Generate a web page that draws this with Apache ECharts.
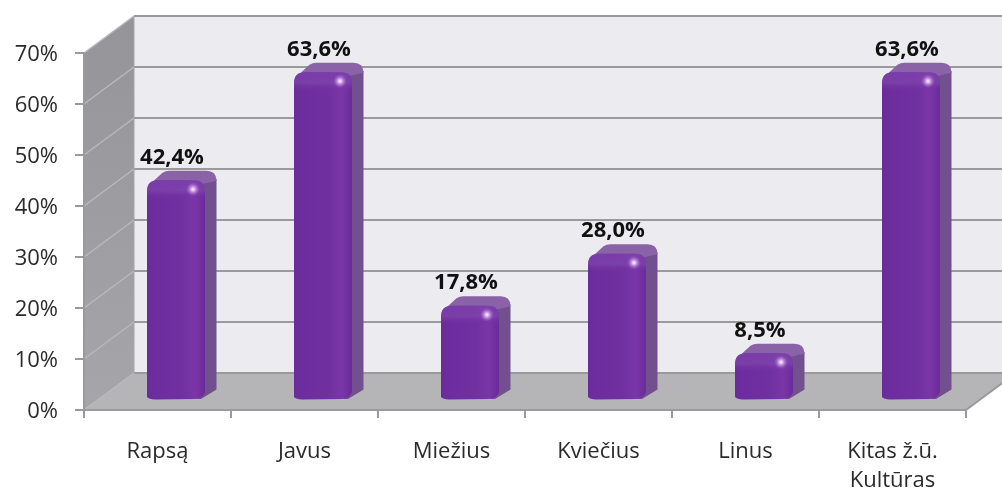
<!DOCTYPE html>
<html><head><meta charset="utf-8">
<style>html,body{margin:0;padding:0;background:#fff}#c{width:1002px;height:488px}</style>
<script src="https://cdn.jsdelivr.net/npm/echarts@6/dist/echarts.min.js"></script>
</head><body><div id="c"></div>
<script>
const categories = ['Rapsą','Javus','Miežius','Kviečius','Linus','Kitas ž.ū.\nKultūras'];
const values = [42.4,63.6,17.8,28.0,8.5,63.6];
const tickValues = [0,10,20,30,40,50,60,70];

const G = echarts.graphic;
const chart = echarts.init(document.getElementById('c'));
const DX = 50, DY = -37;          // wall depth
const LINE = '#9a9a9c';

function wallItem(params, api){
  const c = params.coordSys, L = c.x, R = c.x + c.width, T = c.y, B = c.y + c.height;
  const poly = (pts, fill) => ({type:'polygon', shape:{points:pts}, style:{fill}});
  return {type:'group', children:[
    poly([[L+DX,T+DY],[R+DX,T+DY],[R+DX,B+DY],[L+DX,B+DY]], '#ecebf0'),
    poly([[L,T],[L+DX,T+DY],[L+DX,B+DY],[L,B]],
      new G.LinearGradient(0,0,0,1,[{offset:0,color:'#959498'},{offset:1,color:'#a6a5a9'}])),
    poly([[L,B],[L+DX,B+DY],[R+DX,B+DY],[R,B]], '#b5b4b7'),
    {type:'line', shape:{x1:L+DX,y1:T+DY,x2:L+DX,y2:B+DY}, style:{stroke:'#a6a5a8',lineWidth:1}},
    {type:'line', shape:{x1:R,y1:B,x2:R+DX,y2:B+DY}, style:{stroke:LINE,lineWidth:2}}
  ]};
}
function gridItem(params, api){
  const c = params.coordSys, v = api.value(0), y = api.coord([0,v])[1];
  const x0 = c.x, x1 = c.x + c.width;
  const kids = [{type:'line', shape:{x1:x0,y1:y,x2:x0+DX,y2:y+DY}, style:{stroke:'#b9b8bb',lineWidth:1.5}}];
  kids.push({type:'line', shape:{x1:x0+DX,y1:y+DY,x2:x1+DX,y2:y+DY}, style:{stroke:LINE,lineWidth:2}});
  return {type:'group', children:kids};
}
function barItem(params, api){
  const idx = api.value(0), val = api.value(1);
  const base = api.coord([idx,0]), top = api.coord([idx,val]);
  const W = 58, ox = 18.5, oy = -11, sx = 11.5, sy = -9.5, r = 11;
  const cx = base[0] + ox;
  const x0 = cx - W/2, x1 = cx + W/2, yb = base[1] + oy, yt = top[1] + oy - 2.5;
  const front = `M${x0} ${yb-2} L${x0} ${yt+r} Q${x0} ${yt} ${x0+r} ${yt} L${x1-r} ${yt} Q${x1} ${yt} ${x1} ${yt+r} L${x1} ${yb-7} Q${x1-2} ${yb} ${x1-10} ${yb} L${x0+8} ${yb+0.5} Q${x0+2} ${yb} ${x0} ${yb-2} Z`;
  const side = `M${x1-6} ${yt+2} L${x1+sx} ${yt+sy+8} L${x1+sx} ${yb+sy} L${x1-4} ${yb} L${x1-8} ${yb} Z`;
  const topFace = `M${x0+3} ${yt+4} L${x0+sx+4} ${yt+sy+2} Q${x0+sx+7} ${yt+sy} ${x0+sx+11} ${yt+sy} L${x1+sx-10} ${yt+sy} Q${x1+sx} ${yt+sy} ${x1+sx} ${yt+sy+10} L${x1-4} ${yt+4} Z`;
  const bevel = `M${x0} ${yt+19} L${x0} ${yt+r} Q${x0} ${yt} ${x0+r} ${yt} L${x1-r} ${yt} Q${x1} ${yt} ${x1} ${yt+r} L${x1} ${yt+19} Z`;
  const hx = x1 - 12, hy = yt + 9;
  const p = (d, fill) => ({type:'path', shape:{pathData:d}, style:{fill}});
  return {type:'group', children:[
    p(side, '#72508f'),
    p(topFace, '#8a62a8'),
    p(front, new G.LinearGradient(0,0,1,0,[
      {offset:0,color:'#6a2b9a'},{offset:0.12,color:'#6e2d9e'},{offset:0.6,color:'#7030a0'},
      {offset:0.82,color:'#7a36a8'},{offset:1,color:'#6a2b9a'}])),
    p(bevel, new G.LinearGradient(0,0,0,1,[
      {offset:0,color:'rgba(130,70,175,0.55)'},{offset:0.55,color:'rgba(135,80,180,0.5)'},{offset:1,color:'rgba(112,48,160,0)'}])),
    {type:'circle', shape:{cx:hx,cy:hy,r:7}, style:{fill:new G.RadialGradient(0.5,0.5,0.5,[
      {offset:0,color:'rgba(255,245,255,1)'},{offset:0.25,color:'rgba(240,205,250,0.85)'},{offset:1,color:'rgba(170,100,215,0)'}])}},
    {type:'text', x:cx-4, y:yt-22.5, style:{
      text: val.toFixed(1).replace('.',',') + '%', align:'center', verticalAlign:'middle',
      font:'bold 22px "Open Sans", "Noto Sans", sans-serif', fill:'#111'}}
  ]};
}

chart.setOption({
  animation:false,
  backgroundColor:'#ffffff',
  grid:{left:84,right:36,top:53,bottom:78,outerBoundsMode:'none'},
  xAxis:{type:'category',data:categories,z:3,
    axisLine:{lineStyle:{color:LINE,width:2}},
    axisTick:{show:true,alignWithLabel:false,length:8,lineStyle:{color:LINE,width:2}},
    axisLabel:{color:'#2a2a2a',fontFamily:'"Open Sans", sans-serif',fontSize:22,lineHeight:29,margin:27.5,interval:0,hideOverlap:false},
    splitLine:{show:false}},
  yAxis:{type:'value',min:0,max:70,interval:10,z:3,
    axisLine:{show:true,lineStyle:{color:LINE,width:2}},
    axisTick:{show:true,length:9,lineStyle:{color:LINE,width:2}},
    axisLabel:{formatter:'{value}%',color:'#2a2a2a',fontFamily:'"Open Sans", sans-serif',fontSize:22,margin:26,verticalAlign:'top',lineHeight:4},
    splitLine:{show:false}},
  series:[
    {type:'custom',name:'walls',z:1,silent:true,data:[[0]],renderItem:wallItem},
    {type:'custom',name:'grid',z:2,silent:true,data:tickValues.map(v=>[v]),renderItem:gridItem,encode:{y:0}},
    {type:'custom',name:'bars',z:4,silent:true,data:values.map((v,i)=>[i,v]),renderItem:barItem,encode:{x:0,y:1}}
  ]
});
</script></body></html>
